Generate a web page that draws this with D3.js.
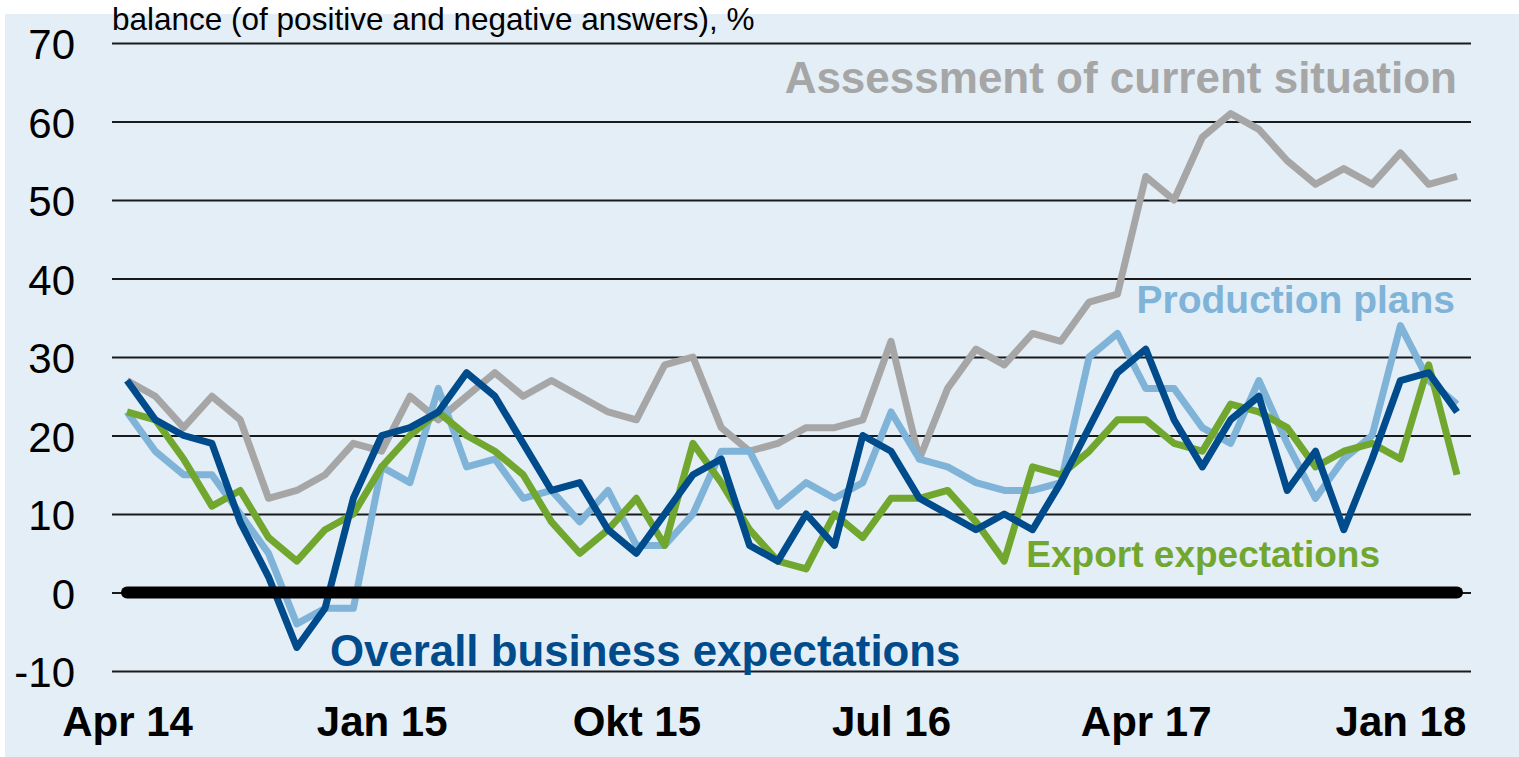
<!DOCTYPE html>
<html><head><meta charset="utf-8">
<script src="https://cdn.jsdelivr.net/npm/d3@7"></script>
<style>html,body{margin:0;padding:0;background:#fff;}svg{display:block;}</style>
</head><body>
<svg id="chart" width="1519" height="757"></svg>
<script>
const months = ["Apr 14","May 14","Jun 14","Jul 14","Aug 14","Sep 14","Oct 14","Nov 14","Dec 14",
"Jan 15","Feb 15","Mar 15","Apr 15","May 15","Jun 15","Jul 15","Aug 15","Sep 15","Okt 15","Nov 15","Dec 15",
"Jan 16","Feb 16","Mar 16","Apr 16","May 16","Jun 16","Jul 16","Aug 16","Sep 16","Okt 16","Nov 16","Dec 16",
"Jan 17","Feb 17","Mar 17","Apr 17","May 17","Jun 17","Jul 17","Aug 17","Sep 17","Okt 17","Nov 17","Dec 17",
"Jan 18","Feb 18","Mar 18"];
const tickLabels = ["Apr 14","Jan 15","Okt 15","Jul 16","Apr 17","Jan 18"];
const yTicks = [-10,0,10,20,30,40,50,60,70];

const assessment = [27,25,21,25,22,12,13,15,19,18,25,22,25,28,25,27,25,23,22,29,30,21,18,19,21,21,22,32,17,26,31,29,33,32,37,38,53,50,58,61,59,55,52,54,52,56,52,53];
const production = [23,18,15,15,10,5,-4,-2,-2,16,14,26,16,17,12,13,9,13,6,6,10,18,18,11,14,12,14,23,17,16,14,13,13,14,30,33,26,26,21,19,27,19,12,17,20,34,27,24];
const exportExp = [23,22,17,11,13,7,4,8,10,16,20,23,20,18,15,9,5,8,12,6,19,14,8,4,3,10,7,12,12,13,9,4,16,15,18,22,22,19,18,24,23,21,16,18,19,17,29,15];
const overall = [27,22,20,19,9,2,-7,-2,12,20,21,23,28,25,19,13,14,8,5,10,15,17,6,4,10,6,20,18,12,10,8,10,8,14,21,28,31,22,16,22,25,13,18,8,17,27,28,23];

const seriesNames = ["Assessment of current situation","Production plans","Export expectations","Overall business expectations"];
const seriesColors = ["#a6a6a6","#80b3d8","#71a72f","#004b8c"];

const svg = d3.select("#chart");
const W = 1519, H = 757;
const FONT = "'Liberation Sans', Arial, sans-serif";

svg.append("rect").attr("x",5).attr("y",14).attr("width",W-5).attr("height",H-14).attr("fill","#e4eef6");

const x = d3.scalePoint().domain(months).range([127,1457]);
const y = d3.scaleLinear().domain([-10,70]).range([671,43]);

// gridlines
const yAxis = d3.axisLeft(y).tickValues(yTicks).tickSize(-(1471-112)).tickFormat(d=>d).tickPadding(37);
const gy = svg.append("g").attr("transform","translate(112,0)").call(yAxis);
gy.select(".domain").remove();
gy.selectAll(".tick line").attr("stroke","#1a1a1a").attr("stroke-width",2);
gy.selectAll(".tick text").attr("font-family",FONT).attr("font-size",42).attr("fill","#000").attr("dy","0.38em");

// x axis labels
const xAxis = d3.axisBottom(x).tickValues(tickLabels).tickSize(0).tickPadding(0);
const gx = svg.append("g").attr("transform","translate(0,706)").call(xAxis);
gx.select(".domain").remove();
gx.selectAll(".tick text").attr("font-family",FONT).attr("font-size",42).attr("font-weight","bold").attr("fill","#000").attr("dy","0.71em");

// lines
const line = d3.line().x((d,i)=>x(months[i])).y(d=>y(d));
const allSeries = [assessment, production, exportExp, overall];
allSeries.forEach((s,k)=>{
  svg.append("path").datum(s).attr("d",line).attr("fill","none")
    .attr("stroke",seriesColors[k]).attr("stroke-width",7)
    .attr("stroke-linejoin","round").attr("stroke-linecap","butt");
});

// zero line
svg.append("line").attr("x1",x(months[0])).attr("x2",x(months[months.length-1]))
  .attr("y1",y(0)).attr("y2",y(0)).attr("stroke","#000").attr("stroke-width",12).attr("stroke-linecap","round");

// title
svg.append("text").attr("x",112).attr("y",30).attr("font-family",FONT).attr("font-size",31.5).attr("fill","#000")
  .text("balance (of positive and negative answers), %");

// series labels
const labels = [
  {t:seriesNames[0], x:1457, y:93, size:44, anchor:"end", c:seriesColors[0]},
  {t:seriesNames[1], x:1455, y:313, size:39, anchor:"end", c:seriesColors[1]},
  {t:seriesNames[2], x:1380, y:567, size:37, anchor:"end", c:seriesColors[2]},
  {t:seriesNames[3], x:330, y:666, size:43.8, anchor:"start", c:seriesColors[3]}
];
labels.forEach(l=>{
  svg.append("text").attr("x",l.x).attr("y",l.y).attr("text-anchor",l.anchor)
    .attr("font-family",FONT).attr("font-weight","bold").attr("font-size",l.size).attr("fill",l.c).text(l.t);
});
</script>
</body></html>
